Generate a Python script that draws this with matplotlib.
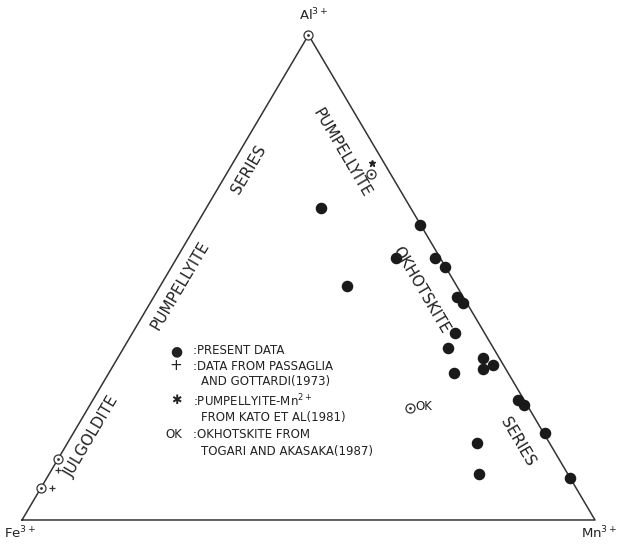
import matplotlib.pyplot as plt
import numpy as np

# ternary data: fractions of Al3+ and Mn3+ (Fe3+ = 1 - Al - Mn)
present_al = [0.643, 0.482, 0.608, 0.540, 0.540, 0.522, 0.460, 0.447, 0.386, 0.355,
              0.303, 0.334, 0.311, 0.320, 0.247, 0.237, 0.179, 0.087, 0.159, 0.095]
present_mn = [0.201, 0.327, 0.390, 0.382, 0.450, 0.477, 0.530, 0.546, 0.562, 0.566,
              0.602, 0.637, 0.649, 0.662, 0.742, 0.757, 0.823, 0.913, 0.714, 0.750]

open_al = [1.0, 0.713, 0.126, 0.066]
open_mn = [0.0, 0.252, 0.0, 0.0]

passaglia_al = [0.103, 0.066]
passaglia_mn = [0.011, 0.019]

kato_al = [0.736]
kato_mn = [0.242]

ok_al = [0.231]
ok_mn = [0.561]


def tern(al, mn):
    al = np.asarray(al, dtype=float)
    mn = np.asarray(mn, dtype=float)
    return mn + al / 2.0, al


fig = plt.figure(figsize=(6.25, 5.44), dpi=100)
ax = fig.add_axes([0, 0, 1, 1])
ax.set_xlim(-0.0384, 1.0524)
ax.set_ylim(-0.0495, 1.0722)
ax.axis('off')

# triangle frame
tx, ty = tern([0, 0, 1, 0], [0, 1, 0, 0])
ax.plot(tx, ty, color='#333333', lw=1.1, zorder=1)

x, y = tern(present_al, present_mn)
ax.plot(x, y, 'o', color='#1a1a1a', ms=7.3, zorder=3)

x, y = tern(open_al, open_mn)
ax.plot(x, y, 'o', mfc='white', mec='#333333', mew=0.9, ms=6.5, zorder=3)
ax.plot(x, y, '.', color='#333333', ms=2, zorder=4)

x, y = tern(ok_al, ok_mn)
ax.plot(x, y, 'o', mfc='white', mec='#333333', mew=0.9, ms=6.5, zorder=3)
ax.plot(x, y, '.', color='#333333', ms=2, zorder=4)
ax.annotate('OK', (x[0], y[0]), xytext=(4, 1), textcoords='offset points',
            fontsize=8.5, color='#222222', va='center')

x, y = tern(passaglia_al, passaglia_mn)
ax.plot(x, y, '+', color='#333333', ms=5, mew=0.9, zorder=4)

x, y = tern(kato_al, kato_mn)
ax.plot(x, y, '*', color='#222222', ms=5, zorder=4)

# vertex labels
tc = '#222222'
fig.text(314 / 625, 1 - 15 / 544, 'Al$^{3+}$', fontsize=9.5, color=tc, ha='center', va='center')
fig.text(20 / 625, 1 - 533 / 544, 'Fe$^{3+}$', fontsize=9.5, color=tc, ha='center', va='center')
fig.text(599 / 625, 1 - 533 / 544, 'Mn$^{3+}$', fontsize=9.5, color=tc, ha='center', va='center')

# series labels along the edges
edge_labels = [
    ('PUMPELLYITE', 342, 153, -59.5),
    ('OKHOTSKITE', 421, 290, -59.5),
    ('SERIES', 518, 442, -59.5),
    ('SERIES', 249, 170, 59.4),
    ('PUMPELLYITE', 180, 286, 59.4),
    ('JULGOLDITE', 92, 437, 59.4),
]
for txt, px, py, rot in edge_labels:
    fig.text(px / 625, 1 - py / 544, txt, fontsize=11, color=tc,
             rotation=rot, ha='center', va='center', rotation_mode='anchor')

# legend
lx = 176 / 625
fig.text(lx, 1 - 351 / 544, '\u25CF', fontsize=10, color=tc, ha='center', va='center')
fig.text(lx, 1 - 366 / 544, '+', fontsize=11, color=tc, ha='center', va='center')
fig.text(lx, 1 - 401 / 544, '\u2731', fontsize=9, color=tc, ha='center', va='center')
fig.text(lx - 2 / 625, 1 - 435 / 544, 'OK', fontsize=8.5, color=tc, ha='center', va='center')
legend_lines = [
    (':PRESENT DATA', 351, 193),
    (':DATA FROM PASSAGLIA', 366, 193),
    ('AND GOTTARDI(1973)', 381, 201),
    (':PUMPELLYITE-Mn$^{2+}$', 401, 193),
    ('FROM KATO ET AL(1981)', 417, 201),
    (':OKHOTSKITE FROM', 435, 193),
    ('TOGARI AND AKASAKA(1987)', 451, 201),
]
for txt, py, px in legend_lines:
    fig.text(px / 625, 1 - py / 544, txt, fontsize=8.5, color=tc, ha='left', va='center')

fig.savefig('out.png', dpi=100, facecolor='white')
